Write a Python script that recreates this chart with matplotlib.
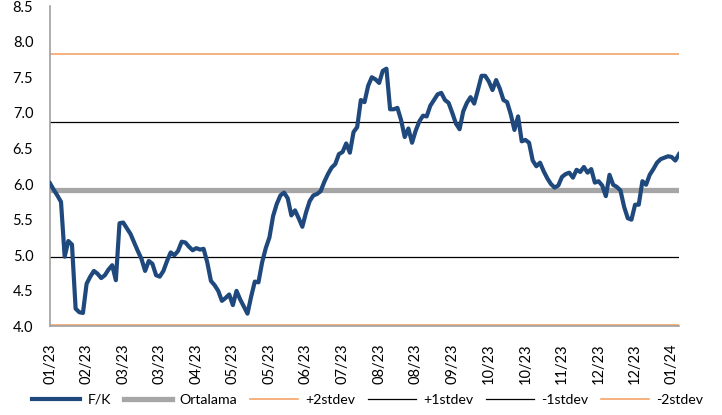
import numpy as np
import matplotlib
matplotlib.use("Agg")
import matplotlib.pyplot as plt

plt.rcParams['font.family'] = ['Lato', 'DejaVu Sans']

# F/K serisi (gozle okunan degerler)
fk = [6.01, 5.92, 5.84, 5.75, 4.98, 5.20, 5.15, 4.25, 4.20, 4.19,
      4.60, 4.70, 4.78, 4.74, 4.68, 4.72, 4.80, 4.86, 4.65, 5.45,
      5.46, 5.38, 5.30, 5.18, 5.06, 4.95, 4.78, 4.92, 4.88, 4.72,
      4.70, 4.78, 4.92, 5.04, 5.00, 5.06, 5.19, 5.18, 5.12, 5.07,
      5.10, 5.08, 5.09, 4.90, 4.64, 4.58, 4.50, 4.36, 4.40, 4.45,
      4.30, 4.50, 4.38, 4.28, 4.18, 4.42, 4.63, 4.62, 4.90, 5.10,
      5.25, 5.55, 5.72, 5.84, 5.88, 5.80, 5.56, 5.63, 5.52, 5.40,
      5.60, 5.76, 5.84, 5.86, 5.90, 6.03, 6.14, 6.23, 6.28, 6.42,
      6.45, 6.57, 6.44, 6.73, 6.80, 7.18, 7.15, 7.38, 7.50, 7.47,
      7.42, 7.59, 7.62, 7.05, 7.05, 7.07, 6.90, 6.66, 6.78, 6.58,
      6.75, 6.88, 6.96, 6.95, 7.10, 7.18, 7.26, 7.28, 7.18, 7.14,
      7.00, 6.85, 6.77, 7.02, 7.14, 7.22, 7.13, 7.32, 7.52, 7.52,
      7.44, 7.32, 7.46, 7.34, 7.18, 7.15, 6.98, 6.76, 6.95, 6.60,
      6.62, 6.58, 6.33, 6.25, 6.30, 6.18, 6.08, 6.00, 5.95, 5.98,
      6.10, 6.14, 6.16, 6.09, 6.20, 6.17, 6.24, 6.16, 6.21, 6.02,
      6.04, 5.98, 5.83, 6.13, 5.99, 5.96, 5.91, 5.68, 5.52, 5.50,
      5.71, 5.71, 6.04, 5.99, 6.13, 6.21, 6.30, 6.35, 6.37, 6.39,
      6.38, 6.33, 6.42]

ortalama = 5.92
stdev = 0.95

tick_labels = ["01/23", "02/23", "03/23", "03/23", "04/23", "05/23",
               "05/23", "06/23", "07/23", "08/23", "08/23", "09/23",
               "10/23", "10/23", "11/23", "12/23", "12/23", "01/24"]

n = len(fk)
x = np.arange(n)

fig = plt.figure(figsize=(7.22, 4.15), dpi=100)
ax = fig.add_axes([0.0693, 0.2133, 0.8711, 0.7722])

ax.plot(x, [ortalama] * n, color="#A6A6A6", lw=3.8, label="Ortalama", zorder=2)
ax.plot(x, [ortalama + 2 * stdev] * n, color="#F4A46A", lw=1.2, label="+2stdev", zorder=1)
ax.plot(x, [ortalama + stdev] * n, color="black", lw=0.9, label="+1stdev", zorder=1)
ax.plot(x, [ortalama - stdev] * n, color="black", lw=0.9, label="-1stdev", zorder=1)
ax.plot(x, [ortalama - 2 * stdev] * n, color="#F4A46A", lw=1.2, label="-2stdev", zorder=1)
ax.plot(x, fk, color="#1F497D", lw=3.0, label="F/K", zorder=3)

ax.set_xlim(0, n - 1)
ax.set_ylim(4.0, 8.5)
ax.set_yticks(np.arange(4.0, 8.51, 0.5))
ax.set_yticklabels(["%.1f" % v for v in np.arange(4.0, 8.51, 0.5)], fontsize=10.5)
ax.set_xticks(np.arange(0, n, 10))
ax.set_xticklabels(tick_labels, rotation=90, fontsize=10.5)
ax.tick_params(axis="both", length=0, pad=12)

for s in ["top", "right"]:
    ax.spines[s].set_visible(False)
for s in ["left", "bottom"]:
    ax.spines[s].set_color("#A0A0A0")
    ax.spines[s].set_linewidth(1.2)

handles, labels = ax.get_legend_handles_labels()
order = [5, 0, 1, 2, 3, 4]
ax.legend([handles[i] for i in order], [labels[i] for i in order],
          loc="center", bbox_to_anchor=(0.505, -0.229), ncol=6, frameon=False,
          fontsize=10.2, handlelength=3.4, columnspacing=0.9, handletextpad=0.5,
          borderpad=0.1)

fig.savefig("out.png", dpi=100)
